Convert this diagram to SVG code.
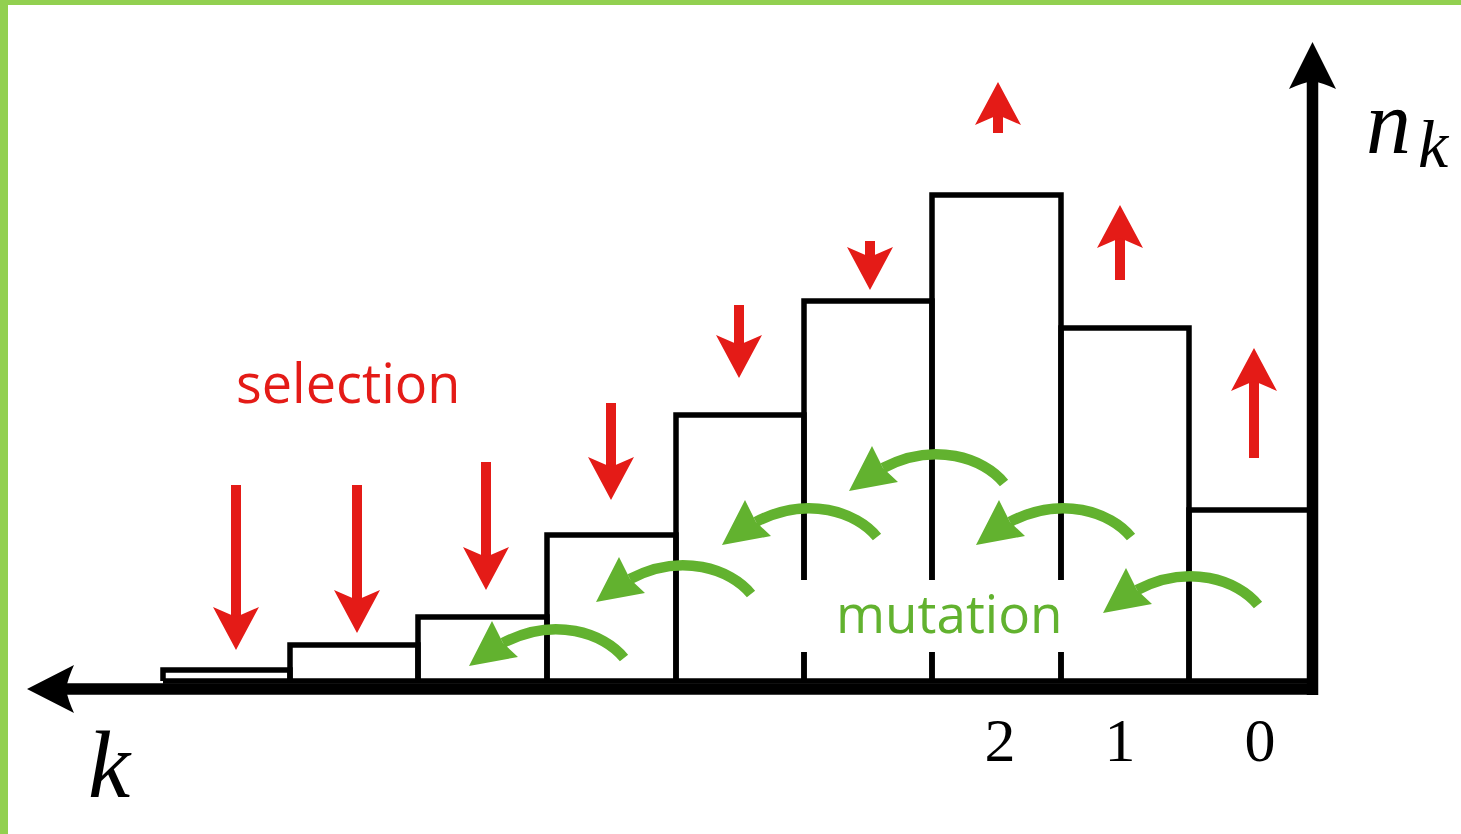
<svg xmlns="http://www.w3.org/2000/svg" width="1461" height="834" viewBox="0 0 1461 834">
  <style>
    .bar { fill: none; stroke: #000; stroke-width: 5.5; stroke-linejoin: miter; stroke-linecap: butt; }
    .axis { fill: none; stroke: #000; stroke-width: 11.5; stroke-linecap: butt; }
    .sel { fill: none; stroke: #e41b17; stroke-width: 10; stroke-linecap: butt; }
    .lbl-red { font-family: "Open Sans", "Liberation Sans", sans-serif; font-size: 54px; fill: #e41b17; }
    .lbl-green { font-family: "Open Sans", "Liberation Sans", sans-serif; font-size: 53px; fill: #62b22f; }
    .math { font-family: "Liberation Serif", "DejaVu Serif", serif; font-style: italic; fill: #000; }
    .num { font-family: "Liberation Serif", "DejaVu Serif", serif; font-size: 62px; fill: #000; text-anchor: middle; }
  </style>
  <defs>
    <marker id="redhead" markerUnits="userSpaceOnUse" viewBox="0 -25 45 50" markerWidth="45" markerHeight="50" refX="10" refY="0" orient="auto">
      <path d="M0,-23 L43,0 L0,23 L10,0 Z" fill="#e41b17"/>
    </marker>
    <g id="mut">
      <path d="M0,0 C-20,-25 -70,-42 -121,-15" fill="none" stroke="#62b22f" stroke-width="10.5"/>
      <path d="M-155,8 L-132,-37 L-121,-15 L-106,-1 Z" fill="#62b22f"/>
    </g>
  </defs>

  <rect width="1461" height="834" fill="#fff"/>
  <g id="frame">
    <rect x="0" y="0" width="1461" height="5" fill="#92d050"/>
    <rect x="0" y="0" width="8" height="834" fill="#92d050"/>
  </g>

  <g id="bars">
    <g id="bar-1"><path class="bar" d="M163,681 V670 H290 V681"/></g>
    <g id="bar-2"><path class="bar" d="M290,681 V645 H418 V681"/></g>
    <g id="bar-3"><path class="bar" d="M418,681 V617 H547 V681"/></g>
    <g id="bar-4"><path class="bar" d="M547,681 V535 H676 V681"/></g>
    <g id="bar-5"><path class="bar" d="M676,681 V415 H804 V580 M804,652 V681"/></g>
    <g id="bar-6"><path class="bar" d="M804,681 V652 M804,580 V301 H932 V580 M932,652 V681"/></g>
    <g id="bar-7"><path class="bar" d="M932,681 V652 M932,580 V195 H1061 V580 M1061,652 V681"/></g>
    <g id="bar-8"><path class="bar" d="M1061,681 V652 M1061,580 V328 H1189 V681"/></g>
    <g id="bar-9"><path class="bar" d="M1189,681 V510 H1312"/></g>
    <path class="bar" d="M163,681 H1312"/>
  </g>

  <g id="axes">
    <path class="axis" d="M64,689 H1318"/>
    <path class="axis" d="M1312.5,80 V695"/>
    <path d="M27,689 L74,665 Q68,678 66,689 Q68,700 74,713 Z" fill="#000"/>
    <path d="M1312.5,42 L1336,89 Q1323,83 1312.5,81 Q1302,83 1289,89 Z" fill="#000"/>
  </g>

  <g id="connectors">
    <g id="selection-arrows">
      <line class="sel" x1="236" y1="485" x2="236" y2="617" marker-end="url(#redhead)"/>
      <line class="sel" x1="357" y1="485" x2="357" y2="600" marker-end="url(#redhead)"/>
      <line class="sel" x1="486" y1="462" x2="486" y2="557" marker-end="url(#redhead)"/>
      <line class="sel" x1="611" y1="403" x2="611" y2="467" marker-end="url(#redhead)"/>
      <line class="sel" x1="739" y1="305" x2="739" y2="345" marker-end="url(#redhead)"/>
      <line class="sel" x1="870" y1="241" x2="870" y2="257" marker-end="url(#redhead)"/>
      <line class="sel" x1="998" y1="133" x2="998" y2="115" marker-end="url(#redhead)"/>
      <line class="sel" x1="1120" y1="280" x2="1120" y2="238" marker-end="url(#redhead)"/>
      <line class="sel" x1="1254" y1="458" x2="1254" y2="381" marker-end="url(#redhead)"/>
    </g>
    <g id="mutation-arrows">
      <use href="#mut" transform="translate(624,658)"/>
      <use href="#mut" transform="translate(751,594)"/>
      <use href="#mut" transform="translate(877,537)"/>
      <use href="#mut" transform="translate(1004,483)"/>
      <use href="#mut" transform="translate(1131,537)"/>
      <use href="#mut" transform="translate(1258,605)"/>
    </g>
  </g>

  <g id="labels">
    <text class="lbl-red" x="236" y="403">selection</text>
    <text class="lbl-green" x="836" y="633">mutation</text>
    <text class="math" x="88" y="797" font-size="95">k</text>
    <text class="math" x="1366" y="153" font-size="90">n</text>
    <text class="math" x="1418" y="167" font-size="68">k</text>
    <text class="num" x="1000" y="761">2</text>
    <text class="num" x="1120" y="761">1</text>
    <text class="num" x="1260" y="761">0</text>
  </g>
</svg>
